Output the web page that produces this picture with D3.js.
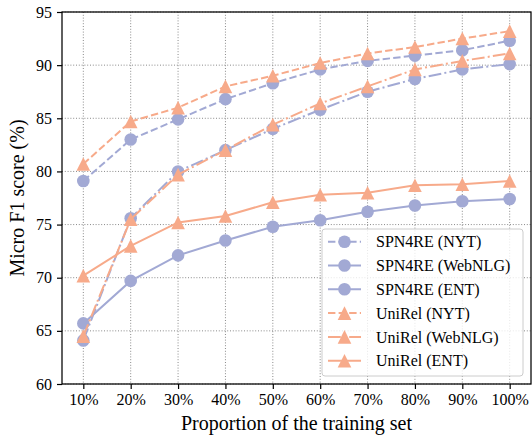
<!DOCTYPE html>
<html>
<head>
<meta charset="utf-8">
<script src="https://cdn.jsdelivr.net/npm/d3@7"></script>
<style>
  body { margin: 0; background: #fff; }
  svg text { font-family: "Liberation Serif", "Times New Roman", serif; fill: #000; }
</style>
</head>
<body>
<div id="chart"></div>
<script>
var proportions = ["10%", "20%", "30%", "40%", "50%", "60%", "70%", "80%", "90%", "100%"];
var yTicks = [60, 65, 70, 75, 80, 85, 90, 95];

var spnNyt     = [79.1, 83.0, 84.9, 86.8, 88.3, 89.6, 90.4, 90.9, 91.4, 92.3];
var spnWebnlg  = [64.1, 75.6, 80.0, 82.0, 84.0, 85.8, 87.5, 88.7, 89.6, 90.1];
var spnEnt     = [65.7, 69.7, 72.1, 73.5, 74.8, 75.4, 76.2, 76.8, 77.2, 77.4];
var uniNyt     = [80.7, 84.7, 86.0, 88.0, 89.0, 90.2, 91.1, 91.7, 92.5, 93.2];
var uniWebnlg  = [64.5, 75.5, 79.7, 82.0, 84.4, 86.4, 88.0, 89.6, 90.4, 91.1];
var uniEnt     = [70.2, 73.0, 75.2, 75.8, 77.1, 77.8, 78.0, 78.7, 78.8, 79.1];

var blue = "#a2a9d4",
    orange = "#f7aa8a";

var series = [
  {name: "SPN4RE (NYT)",     values: spnNyt,    color: blue,   dash: "7.4,3.2",         marker: "circle"},
  {name: "SPN4RE (WebNLG)",  values: spnWebnlg, color: blue,   dash: "12.8,3.2,2,3.2",  marker: "circle"},
  {name: "SPN4RE (ENT)",     values: spnEnt,    color: blue,   dash: null,              marker: "circle"},
  {name: "UniRel (NYT)",     values: uniNyt,    color: orange, dash: "7.4,3.2",         marker: "triangle"},
  {name: "UniRel (WebNLG)",  values: uniWebnlg, color: orange, dash: "12.8,3.2,2,3.2",  marker: "triangle"},
  {name: "UniRel (ENT)",     values: uniEnt,    color: orange, dash: null,              marker: "triangle"}
];

var width = 532, height = 439,
    plotLeft = 62, plotTop = 12, plotRight = 531, plotBottom = 384;

var svg = d3.select("#chart").append("svg")
            .attr("width", width)
            .attr("height", height);

var x = d3.scalePoint().domain(proportions).range([plotLeft, plotRight]).padding(0.45);
var y = d3.scaleLinear().domain([60, 95]).range([plotBottom, plotTop]);

// grid
var grid = svg.append("g").attr("stroke", "#8a8a8a").attr("stroke-width", 1)
              .attr("stroke-dasharray", "1,1.8");
grid.selectAll(".gx").data(proportions).enter().append("line")
    .attr("x1", function(d){return x(d)}).attr("x2", function(d){return x(d)})
    .attr("y1", plotTop).attr("y2", plotBottom);
grid.selectAll(".gy").data(yTicks).enter().append("line")
    .attr("y1", function(d){return y(d)}).attr("y2", function(d){return y(d)})
    .attr("x1", plotLeft).attr("x2", plotRight);

// axes
var xAxis = svg.append("g")
   .attr("transform", "translate(0," + plotBottom + ")")
   .call(d3.axisBottom(x).tickSize(5).tickPadding(5));
var yAxis = svg.append("g")
   .attr("transform", "translate(" + plotLeft + ",0)")
   .call(d3.axisLeft(y).tickValues(yTicks).tickSize(5).tickPadding(5));

[xAxis, yAxis].forEach(function(a) {
  a.select(".domain").remove();
  a.selectAll("line").attr("stroke", "#000").attr("stroke-width", 1.2);
  a.selectAll("text").attr("font-size", 16).attr("font-family", "Liberation Serif, serif");
});

var line = d3.line()
             .x(function(d, i){return x(proportions[i])})
             .y(function(d){return y(d)});

function drawMarker(g, type, cx, cy, color) {
  if (type == "circle") {
    g.append("circle").attr("cx", cx).attr("cy", cy).attr("r", 6.3).attr("fill", color);
  } else {
    var s = 6.8;
    g.append("path")
     .attr("d", "M" + cx + "," + (cy - s) + "L" + (cx - s) + "," + (cy + s) + "L" + (cx + s) + "," + (cy + s) + "Z")
     .attr("fill", color);
  }
}

var plot = svg.append("g");
series.forEach(function(s) {
  var g = plot.append("g");
  g.append("path")
   .attr("d", line(s.values))
   .attr("fill", "none")
   .attr("stroke", s.color)
   .attr("stroke-width", 2)
   .attr("stroke-dasharray", s.dash);
  s.values.forEach(function(v, i) {
    drawMarker(g, s.marker, x(proportions[i]), y(v), s.color);
  });
});

// frame
svg.append("rect")
   .attr("x", plotLeft).attr("y", plotTop)
   .attr("width", plotRight - plotLeft).attr("height", plotBottom - plotTop)
   .attr("fill", "none").attr("stroke", "#000").attr("stroke-width", 1.25);

// legend
var legend = svg.append("g").attr("transform", "translate(322,229)");
legend.append("rect")
      .attr("width", 201).attr("height", 147)
      .attr("rx", 3)
      .attr("fill", "#fff").attr("fill-opacity", 0.8)
      .attr("stroke", "#cccccc").attr("stroke-width", 1);

series.forEach(function(s, i) {
  var ly = 12.7 + i * 23.8;
  var row = legend.append("g");
  row.append("line")
     .attr("x1", 6).attr("x2", 39).attr("y1", ly).attr("y2", ly)
     .attr("stroke", s.color).attr("stroke-width", 2)
     .attr("stroke-dasharray", s.dash);
  drawMarker(row, s.marker, 22.5, ly, s.color);
  row.append("text")
     .attr("x", 54).attr("y", ly)
     .attr("dy", "0.35em")
     .attr("font-size", 16)
     .text(s.name);
});

// axis titles
svg.append("text")
   .attr("x", (plotLeft + plotRight) / 2).attr("y", 430)
   .attr("text-anchor", "middle")
   .attr("font-size", 20)
   .text("Proportion of the training set");

svg.append("text")
   .attr("transform", "translate(24," + ((plotTop + plotBottom) / 2) + ") rotate(-90)")
   .attr("text-anchor", "middle")
   .attr("font-size", 20)
   .text("Micro F1 score (%)");
</script>
</body>
</html>
